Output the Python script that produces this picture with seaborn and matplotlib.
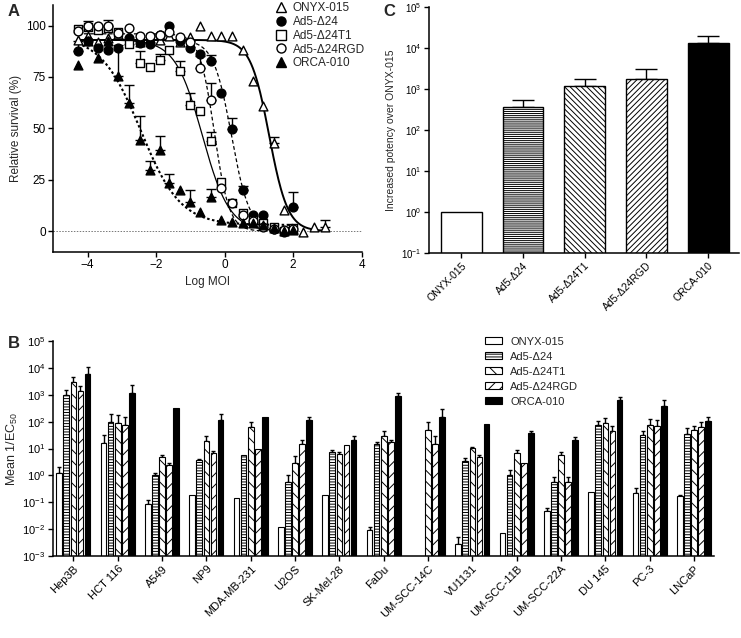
import numpy as np
import pandas as pd
import matplotlib
matplotlib.use("Agg")
import matplotlib.pyplot as plt
import seaborn as sns
from matplotlib.lines import Line2D
from matplotlib.patches import Patch
from matplotlib.container import BarContainer
from matplotlib.ticker import LogLocator, LogFormatterMathtext, NullLocator, FixedLocator

sns.set_theme(style="ticks")
plt.rcParams["font.family"] = ["Liberation Sans", "DejaVu Sans"]
plt.rcParams["mathtext.default"] = "regular"
plt.rcParams["hatch.linewidth"] = 0.7

# ---------------- data ----------------
viruses = ["ONYX-015", "Ad5-Δ24", "Ad5-Δ24T1", "Ad5-Δ24RGD", "ORCA-010"]

# Panel A: dose-response (log MOI vs relative survival %)
log_moi = [-4.29, -4.0, -3.71, -3.41, -3.11, -2.8, -2.48, -2.19, -1.9, -1.61, -1.29,
           -1.0, -0.71, -0.4, -0.1, 0.21, 0.53, 0.82, 1.12, 1.43, 1.72, 2.0, 2.3, 2.62, 2.92]
surv_onyx = [93, 95, 92, 94, 96, 93, 92, 94, 93, 95, 92, 94.5, 100, 95, 95, 95, 88, 73,
             61, 43, 10.5, 1, -0.5, 2, 2]
err_onyx = [0, 0, 0, 0, 0, 0, 0, 0, 0, 0, 0, 0, 0, 0, 0, 0, 0, 0, 0, 3, 0, 0, 0, 0, 3.5]
surv_d24 = [87.4, 92.7, 89, 88.3, 89, 94, 91.4, 90.8, 95.5, 100, 92.4, 89, 86, 82.7, 67,
            49.5, 20, 7.8, 7.8, 0.8, -0.3, 11.8]
err_d24 = [5, 0, 0, 0, 0, 0, 0, 0, 0, 0, 0, 0, 0, 3, 0, 5.5, 2, 0, 0, 0, 0, 7]
surv_t1 = [98.4, 99.5, 98, 99, 96.8, 91, 82, 79.8, 83.3, 88.2, 78, 61.5, 58.3, 44, 24,
           13.8, 8.6, 5.3, 4, 2, 0, 1.3]
err_t1 = [0, 0, 0, 0, 0, 0, 5.5, 0, 3, 0, 5, 5.5, 0, 4, 0, 0, 0, 0, 0, 0, 0, 0]
surv_rgd = [97.2, 100, 100, 100, 96.5, 98.7, 95, 94.7, 95.5, 96.8, 94.3, 92, 79.3, 64, 21,
            13.8, 7.8, 5, 2, 1, 0.5, 1]
err_rgd = [0, 2, 0, 2.5, 0, 0, 0, 0, 0, 0, 0, 0, 6, 8, 0, 0, 0, 0, 0, 0, 0, 0]
surv_orca = [80.6, 92.7, 84.3, 92.7, 75.7, 62.3, 44.2, 29.6, 39.3, 23.5, 20.2, 14.2, 9.4,
             16.7, 5.3, 4.5, 4, 4, 2.9, 1.6, 0, 0.5]
err_orca = [0, 0, 0, 0, 15, 8.7, 12, 4.4, 7, 4.5, 0, 6, 0, 4, 0, 0, 0, 0, 0, 0, 0, 0]

# four-parameter logistic fit parameters for each virus
fit_top = [93, 93, 93, 96, 95]
fit_bottom = [0, 0, 0, 0, 3]
fit_logec50 = [1.3, 0.2, -0.65, -0.3, -2.45]
fit_hill = [1.6, 1.65, 1.1, 2.0, 0.75]

# Panel B: mean 1/EC50 per cell line
cell_lines = ["Hep3B", "HCT 116", "A549", "NP9", "MDA-MB-231", "U2OS", "SK-Mel-28", "FaDu",
              "UM-SCC-14C", "VU1131", "UM-SCC-11B", "UM-SCC-22A", "DU 145", "PC-3", "LNCaP"]
b_onyx = [1.2, 16, 0.085, 0.19, 0.15, 0.012, 0.18, 0.0095, np.nan, 0.0029, 0.007, 0.048, 0.25, 0.22, 0.17]
b_onyx_upper = [2.0, 32, 0.12, np.nan, np.nan, np.nan, np.nan, 0.012, np.nan, 0.0053, np.nan, 0.059, np.nan, 0.33, 0.19]
b_d24 = [970, 100, 1.0, 3.6, 5.5, 0.58, 7.6, 15, np.nan, 3.3, 1.05, 0.58, 74, 32, 35]
b_d24_upper = [1500, 200, 1.2, 4.2, np.nan, 1.0, 9, 17, np.nan, 4.5, 1.6, 0.85, 110, 46, 56]
b_t1 = [3000, 90, 4.8, 19, 64, 3.0, 6.3, 28, 49, 10.3, 6.6, 5.5, 92, 74, 49]
b_t1_upper = [4500, 170, 5.5, 30, 100, 5.3, 7.2, 43, 100, 11.8, 8.7, 7.6, 142, 128, 70]
b_rgd = [1420, 74, 2.4, 6.6, 10, 15, 14, 17, 15, 4.8, 2.9, 0.58, 45, 68, 61]
b_rgd_upper = [2100, 147, 2.8, 8, np.nan, 21.5, np.nan, 21, 30, 5.5, np.nan, 0.85, 68, 112, 97]
b_orca = [5900, 1150, 310, 118, 147, 112, 20.5, 920, 147, 83, 39, 21, 660, 380, 102]
b_orca_upper = [11000, 2300, np.nan, 190, np.nan, 147, 28, 1150, 290, np.nan, 46, 26, 830, 660, 155]

# Panel C: increased potency over ONYX-015
c_values = [1.0, 370, 1200, 1800, 13000]
c_upper = [np.nan, 540, 1750, 3000, 20000]

# ---------------- styles ----------------
fills = {"ONYX-015": "white", "Ad5-Δ24": "white", "Ad5-Δ24T1": "white",
         "Ad5-Δ24RGD": "white", "ORCA-010": "black"}
hatch_b = {"ONYX-015": "", "Ad5-Δ24": "------", "Ad5-Δ24T1": "\\\\\\",
           "Ad5-Δ24RGD": "///", "ORCA-010": ""}
hatch_c = {"ONYX-015": "", "Ad5-Δ24": "--------", "Ad5-Δ24T1": "\\\\\\\\\\\\",
           "Ad5-Δ24RGD": "//////", "ORCA-010": ""}
markers = {"ONYX-015": ("^", "white"), "Ad5-Δ24": ("o", "black"),
           "Ad5-Δ24T1": ("s", "white"), "Ad5-Δ24RGD": ("o", "white"),
           "ORCA-010": ("^", "black")}
line_styles = {"ONYX-015": ("-", 1.4), "Ad5-Δ24": ((0, (3, 2)), 0.9),
               "Ad5-Δ24T1": ("-", 0.9), "Ad5-Δ24RGD": ((0, (3, 2)), 0.9),
               "ORCA-010": ((0, (1.2, 1.2)), 1.5)}

W, H = 741, 638
fig = plt.figure(figsize=(W / 100, H / 100), dpi=100)


def ax_px(l, t, r, b):
    return fig.add_axes([l / W, 1 - b / H, (r - l) / W, (b - t) / H])


def style_axes(ax, fs=8):
    sns.despine(ax=ax)
    for s in ("left", "bottom"):
        ax.spines[s].set_linewidth(1.1)
        ax.spines[s].set_color("black")
    ax.tick_params(direction="out", length=3.5, width=1, colors="black", labelsize=fs, pad=2)


# ---------------- Panel A ----------------
axA = ax_px(53.3, 5, 361.7, 251.7)
series_y = [surv_onyx, surv_d24, surv_t1, surv_rgd, surv_orca]
series_e = [err_onyx, err_d24, err_t1, err_rgd, err_orca]
axA.axhline(0, color="#777777", lw=0.7, ls=(0, (1.5, 1.5)), zorder=1)
for i, v in enumerate(viruses):
    ys = series_y[i]
    xs = log_moi[:len(ys)]
    xc = np.linspace(min(xs), max(xs), 300)
    yc = fit_bottom[i] + (fit_top[i] - fit_bottom[i]) / (1 + 10 ** ((xc - fit_logec50[i]) * fit_hill[i]))
    ls, lw = line_styles[v]
    sns.lineplot(x=xc, y=yc, color="black", lw=lw, linestyle=ls, ax=axA, zorder=2)
for i, v in enumerate(viruses):
    ys = np.array(series_y[i])
    es = np.array(series_e[i])
    xs = np.array(log_moi[:len(ys)])
    m = es > 0
    axA.errorbar(xs[m], ys[m], yerr=[np.zeros(m.sum()), es[m]], fmt="none",
                 ecolor="black", elinewidth=1, capsize=3.5, capthick=1, zorder=3)
    mk, fc = markers[v]
    sns.scatterplot(x=xs, y=ys, marker=mk, s=40, facecolor=fc, edgecolor="black",
                    linewidth=1.0, ax=axA, zorder=4 + i * 0.1)
axA.set_xlim(-5, 4)
axA.set_ylim(-10, 110)
axA.xaxis.set_major_locator(FixedLocator([-4, -2, 0, 2, 4]))
axA.yaxis.set_major_locator(FixedLocator([0, 25, 50, 75, 100]))
style_axes(axA, 8.5)
axA.set_xlabel("Log MOI", fontsize=8.5, labelpad=3)
axA.set_ylabel("Relative survival (%)", fontsize=8.5, labelpad=3)
handles_a = [Line2D([], [], ls="none", marker=markers[v][0], markerfacecolor=markers[v][1],
                    markeredgecolor="black", markersize=6.5, markeredgewidth=1) for v in viruses]
axA.legend(handles_a, viruses, loc="upper right", bbox_to_anchor=(1.03, 1.035), frameon=False,
           fontsize=8.5, labelspacing=0.15, handletextpad=0.4, borderpad=0, handlelength=1.2)

# ---------------- Panel C ----------------
axC = ax_px(429.3, 7, 739, 253)
axC.set_yscale("log")
df_c = pd.DataFrame({"virus": viruses, "value": c_values})
sns.barplot(data=df_c, x="virus", y="value", hue="virus", hue_order=viruses, order=viruses,
            palette=fills, legend=False, width=0.66, edgecolor="black", linewidth=1.0,
            errorbar=None, ax=axC)
bars_c = [c for c in axC.containers if isinstance(c, BarContainer)]
for j, cont in enumerate(bars_c):
    for p in cont.patches:
        p.set_hatch(hatch_c[viruses[j]])
        p.set_edgecolor("black")
        xc = p.get_x() + p.get_width() / 2
        k = int(round(xc))
        up = c_upper[k]
        if np.isfinite(up):
            axC.errorbar([xc], [c_values[k]], yerr=[[0], [up - c_values[k]]], fmt="none",
                         ecolor="black", elinewidth=1, capsize=8, capthick=1, zorder=0)
axC.set_ylim(0.1, 1e5)
axC.set_xlim(-0.52, 4.5)
axC.yaxis.set_major_locator(LogLocator(base=10, numticks=10))
axC.yaxis.set_major_formatter(LogFormatterMathtext())
axC.yaxis.set_minor_locator(NullLocator())
style_axes(axC, 7)
axC.tick_params(axis="x", labelsize=7.5)
axC.set_xlabel("")
axC.set_ylabel("Increased potency over ONYX-015", fontsize=7.5, labelpad=4)
for lab in axC.get_xticklabels():
    lab.set_rotation(45)
    lab.set_ha("right")
    lab.set_rotation_mode("anchor")

# ---------------- Panel B ----------------
axB = ax_px(53, 341, 714, 556)
axB.set_yscale("log")
b_vals = [b_onyx, b_d24, b_t1, b_rgd, b_orca]
b_ups = [b_onyx_upper, b_d24_upper, b_t1_upper, b_rgd_upper, b_orca_upper]
df_b = pd.DataFrame({
    "cell": np.tile(cell_lines, len(viruses)),
    "virus": np.repeat(viruses, len(cell_lines)),
    "value": np.concatenate([np.array(v, dtype=float) for v in b_vals]),
})
df_b = df_b.dropna()
sns.barplot(data=df_b, x="cell", y="value", hue="virus", hue_order=viruses, order=cell_lines,
            palette=fills, legend=False, width=0.8, gap=0.2, edgecolor="black", linewidth=0.8,
            errorbar=None, ax=axB)
bars_b = [c for c in axB.containers if isinstance(c, BarContainer)]
for j, cont in enumerate(bars_b):
    v = viruses[j]
    for p in cont.patches:
        p.set_hatch(hatch_b[v])
        p.set_edgecolor("black")
        xc = p.get_x() + p.get_width() / 2
        k = int(round(xc))
        val = b_vals[j][k]
        up = b_ups[j][k]
        if np.isfinite(val) and np.isfinite(up):
            axB.errorbar([xc], [val], yerr=[[0], [up - val]], fmt="none", ecolor="black",
                         elinewidth=1, capsize=1.6, capthick=1, zorder=0)
axB.set_ylim(1e-3, 1e5)
axB.set_xlim(-0.46, len(cell_lines) - 1 + 0.45)
axB.yaxis.set_major_locator(LogLocator(base=10, numticks=12))
axB.yaxis.set_major_formatter(LogFormatterMathtext())
axB.yaxis.set_minor_locator(NullLocator())
style_axes(axB, 8)
axB.set_xlabel("")
axB.set_ylabel("Mean 1/EC$_{50}$", fontsize=9, labelpad=2)
for lab in axB.get_xticklabels():
    lab.set_rotation(45)
    lab.set_ha("right")
    lab.set_rotation_mode("anchor")
handles_b = [Patch(facecolor=fills[v], edgecolor="black", hatch=hatch_b[v], linewidth=0.8)
             for v in viruses]
axB.legend(handles_b, viruses, loc="upper left", bbox_to_anchor=(0.645, 1.045), frameon=False,
           fontsize=8, labelspacing=0.45, handletextpad=0.8, borderpad=0, handlelength=1.5,
           handleheight=0.6)

# panel letters
fig.text(8 / W, 1 - 12 / H, "A", fontsize=12, fontweight="bold", va="center", ha="left")
fig.text(383 / W, 1 - 12 / H, "C", fontsize=12, fontweight="bold", va="center", ha="left")
fig.text(8 / W, 1 - 343 / H, "B", fontsize=12, fontweight="bold", va="center", ha="left")

fig.savefig("out.png", dpi=100)
